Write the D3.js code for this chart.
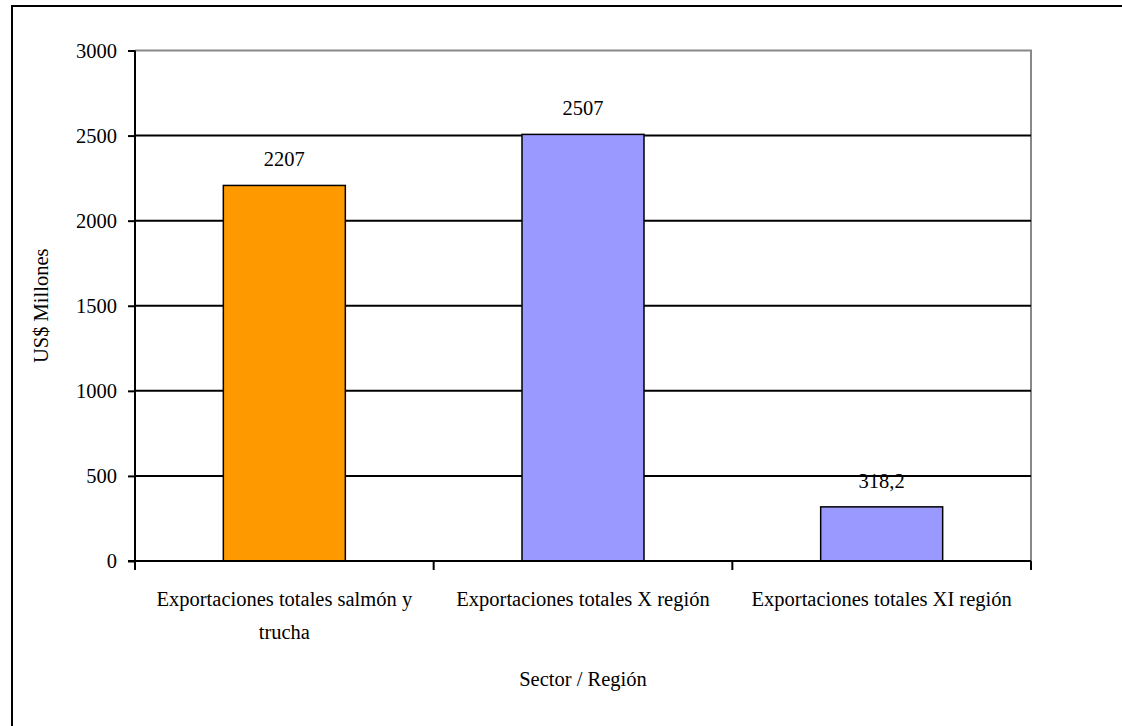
<!DOCTYPE html>
<html><head><meta charset="utf-8">
<script src="https://cdn.jsdelivr.net/npm/d3@7"></script>
<style>body{margin:0;background:#fff;} svg{display:block;}</style>
</head><body>
<svg id="c" width="1122" height="726"></svg>
<script>
const categories = ["Exportaciones totales salmón y trucha","Exportaciones totales X región","Exportaciones totales XI región"];
const categoryLines = [["Exportaciones totales salmón y","trucha"],["Exportaciones totales X región"],["Exportaciones totales XI región"]];
const values = [2207, 2507, 318.2];
const valueLabels = ["2207","2507","318,2"];
const yTicks = [0,500,1000,1500,2000,2500,3000];
const colors = ["#FF9900","#9999FF","#9999FF"];
const yTitle = "US$ Millones";
const xTitle = "Sector / Región";

const svg = d3.select("#c");
const FONT = "'Liberation Serif', 'Times New Roman', serif";
const FS = "20.5px";
const m = {l:135, r:1031, t:50.5, b:561};
const x = d3.scaleBand().domain(categories).range([m.l, m.r]).paddingInner(0).paddingOuter(0);
const y = d3.scaleLinear().domain([0,3000]).range([m.b, m.t]);

// outer border (extends past right/bottom edge)
svg.append("rect").attr("x",12).attr("y",6).attr("width",1130).attr("height",740)
  .attr("fill","none").attr("stroke","#000").attr("stroke-width",2);

// plot area border (gray top/right)
svg.append("path").attr("d",`M${m.l},${y(3000)}H${m.r}V${m.b}`)
  .attr("fill","none").attr("stroke","#888").attr("stroke-width",2);

// gridlines
svg.append("g").selectAll("line").data(yTicks.filter(d=>d>0 && d<3000)).join("line")
  .attr("x1",m.l).attr("x2",m.r).attr("y1",d=>y(d)).attr("y2",d=>y(d))
  .attr("stroke","#000").attr("stroke-width",2);

// bars
const bw = 122;
svg.append("g").selectAll("rect").data(values).join("rect")
  .attr("x",(d,i)=>x(categories[i]) + x.bandwidth()/2 - bw/2)
  .attr("width",bw)
  .attr("y",d=>y(d)).attr("height",d=>y(0)-y(d))
  .attr("fill",(d,i)=>colors[i]).attr("stroke","#000").attr("stroke-width",1.5);

// value labels
svg.append("g").selectAll("text").data(values).join("text")
  .attr("x",(d,i)=>x(categories[i]) + x.bandwidth()/2)
  .attr("y",d=>y(d)-19)
  .attr("text-anchor","middle").style("font-family",FONT).style("font-size",FS).attr("fill","#000")
  .text((d,i)=>valueLabels[i]);

// y axis
const ya = svg.append("g").attr("transform",`translate(${m.l},0)`)
  .call(d3.axisLeft(y).tickValues(yTicks).tickSize(7).tickPadding(11).tickFormat(d3.format("d")));
ya.select(".domain").attr("stroke","#000").attr("stroke-width",2).attr("d",`M0,${y(3000)}V${m.b+9}`);
ya.selectAll(".tick line").attr("stroke","#000").attr("stroke-width",2);
ya.selectAll(".tick text").style("font-family",FONT).style("font-size",FS).attr("fill","#000");

// x axis
const xa = svg.append("g").attr("transform",`translate(0,${m.b})`)
  .call(d3.axisBottom(x).tickSize(0).tickFormat(""));
xa.select(".domain").attr("stroke","#000").attr("stroke-width",2).attr("d",`M${m.l-7},0H${m.r}`);
xa.selectAll(".tick").remove();
const bounds = categories.map(c=>x(c)).concat([m.r]);
xa.selectAll("line.b").data(bounds).join("line").attr("class","b")
  .attr("x1",d=>d).attr("x2",d=>d).attr("y1",0).attr("y2",9)
  .attr("stroke","#000").attr("stroke-width",2);

// category labels
const cl = svg.append("g").selectAll("text").data(categoryLines).join("text")
  .attr("x",(d,i)=>x(categories[i]) + x.bandwidth()/2)
  .attr("y",606)
  .attr("text-anchor","middle").style("font-family",FONT).style("font-size",FS).attr("fill","#000");
cl.selectAll("tspan").data(d=>d).join("tspan")
  .attr("x",function(){return d3.select(this.parentNode).attr("x");})
  .attr("dy",(d,i)=>i===0?0:33).text(d=>d);

// axis titles
svg.append("text").attr("x",(m.l+m.r)/2).attr("y",686).attr("text-anchor","middle")
  .style("font-family",FONT).style("font-size",FS).attr("fill","#000").text(xTitle);
svg.append("text").attr("transform",`translate(48,${(m.t+m.b)/2}) rotate(-90)`).attr("text-anchor","middle")
  .style("font-family",FONT).style("font-size",FS).attr("fill","#000").text(yTitle);
</script>
</body></html>
